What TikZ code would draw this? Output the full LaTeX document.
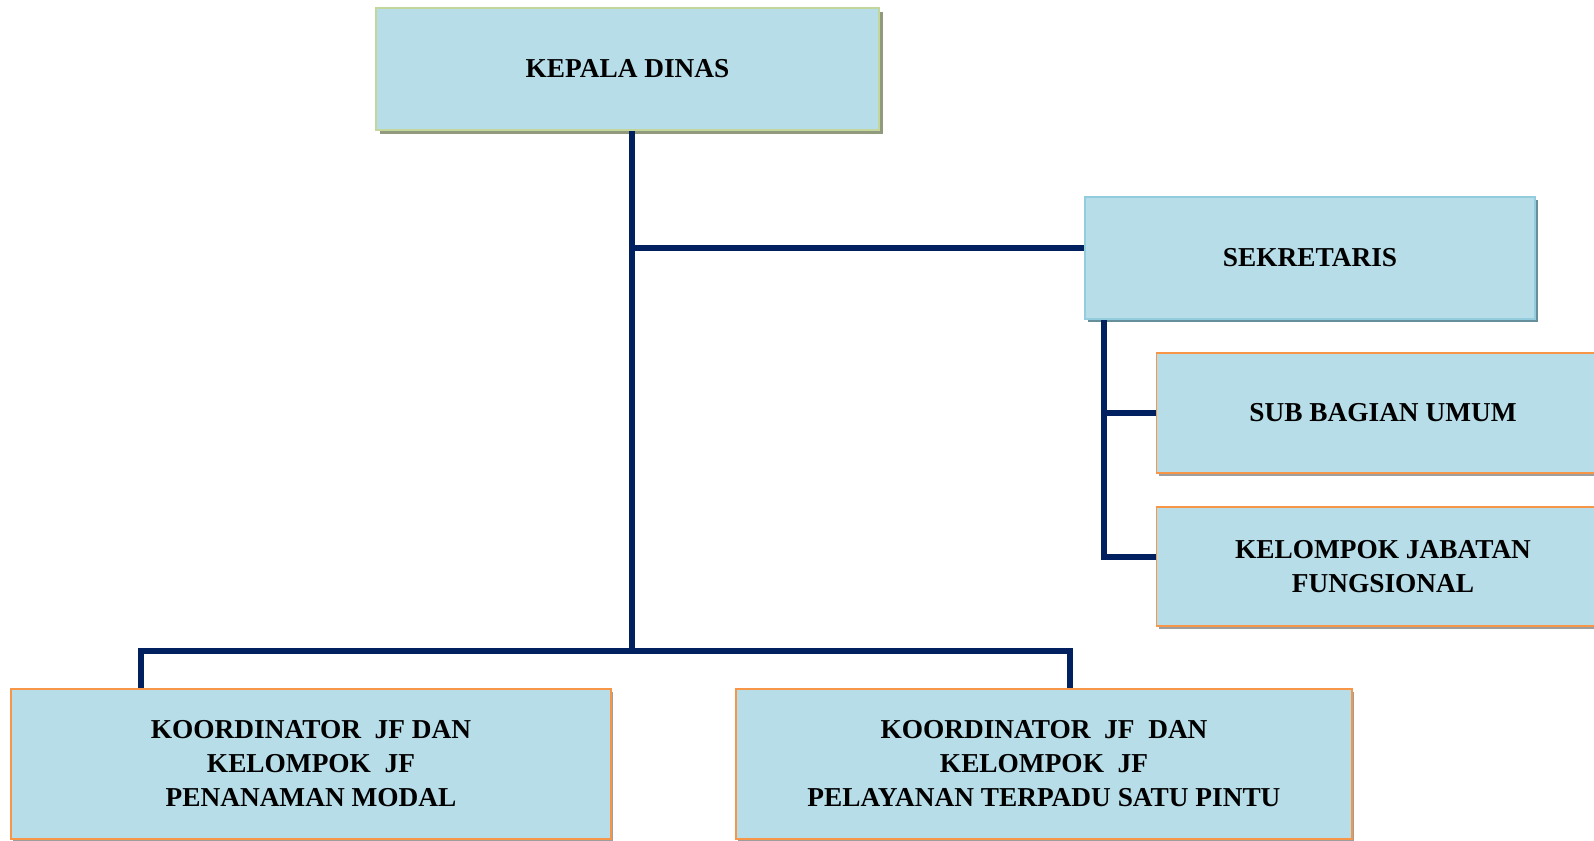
\documentclass[tikz,border=0pt]{standalone}
\usepackage{fontspec}
\setmainfont{Liberation Serif}
\usepackage{tikz}
\usetikzlibrary{positioning, calc, shadows}

\definecolor{boxfill}{HTML}{B7DDE8}
\definecolor{olive}{HTML}{C3D69B}
\definecolor{skyline}{HTML}{93CDDD}
\definecolor{orangeline}{HTML}{F79646}
\definecolor{navy}{HTML}{002060}

\begin{document}
\begin{tikzpicture}[x=0.75pt, y=-0.75pt,
    unit/.style={rectangle, fill=boxfill, line width=1.2pt, align=center,
        font=\bfseries\fontsize{20.5}{25.5}\selectfont, inner sep=0pt},
    headbox/.style={unit, draw=olive, drop shadow={shadow xshift=3pt, shadow yshift=-3pt, fill=black!20!olive!60!gray, opacity=1}},
    secbox/.style={unit, draw=skyline, drop shadow={shadow xshift=2.5pt, shadow yshift=-2.5pt, fill=black!30!skyline, opacity=1}},
    subbox/.style={unit, draw=orangeline, drop shadow={shadow xshift=1.5pt, shadow yshift=-2.5pt, fill=black!38, opacity=1}},
    conn/.style={draw=navy, line width=4.8pt}]
\path[use as bounding box, clip] (0,0) rectangle (1594,840);

% Head
\node[headbox, minimum width=503*0.75pt, minimum height=122*0.75pt] (kadis) at (627.5,69) {KEPALA DINAS};

% Secretary and its units
\node[secbox, minimum width=450*0.75pt, minimum height=122*0.75pt] (sekre) at (1310,258) {SEKRETARIS};
\node[subbox, minimum width=453*0.75pt, minimum height=120*0.75pt] (subag) at (1383,413) {SUB BAGIAN UMUM};
\node[subbox, minimum width=453*0.75pt, minimum height=119*0.75pt] (kjf) at (1383,566.5) {KELOMPOK JABATAN\\FUNGSIONAL};

% Coordinators
\node[subbox, minimum width=600*0.75pt, minimum height=150*0.75pt] (kpm) at (311,764)
    {KOORDINATOR~ JF DAN\\KELOMPOK~ JF\\PENANAMAN MODAL};
\node[subbox, minimum width=616*0.75pt, minimum height=150*0.75pt] (kptsp) at (1044,764)
    {KOORDINATOR~ JF~ DAN\\KELOMPOK~ JF\\PELAYANAN TERPADU SATU PINTU};

% Junction points
\coordinate (bus) at (632,651);
\coordinate (tap) at (632,248);
\coordinate (busl) at (141,651);
\coordinate (busr) at (1070,651);
\coordinate (sv) at (1104,557);

% Lines
\draw[conn] (kadis.south -| bus) -- (bus);
\draw[conn] (tap) -- (tap -| sekre.west);
\draw[conn] (kpm.north -| busl) -- (busl) -- (busr) -- (kptsp.north -| busr);
\draw[conn] (sekre.south -| sv) -- (sv) -- (sv -| kjf.west);
\draw[conn] (subag.west -| sv) -- (subag.west);
\end{tikzpicture}
\end{document}
